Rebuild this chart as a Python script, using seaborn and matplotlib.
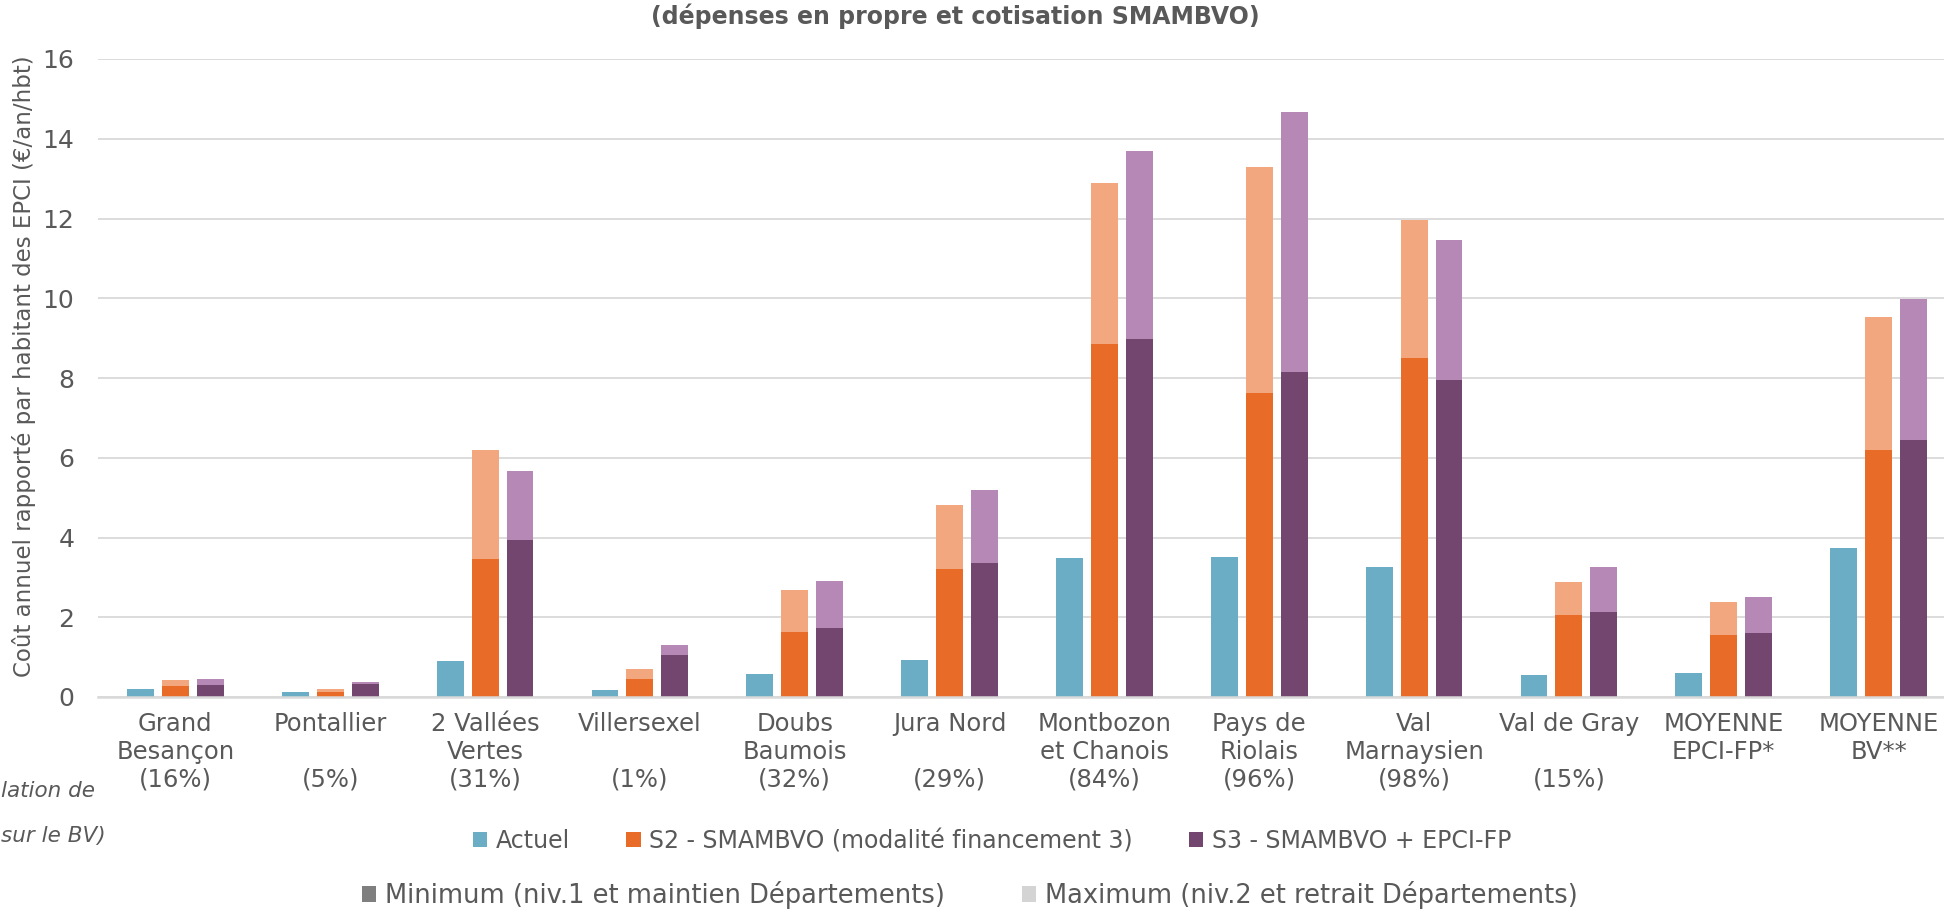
import pandas as pd
import seaborn as sns
import matplotlib.pyplot as plt
from matplotlib.patches import Patch

# EPCI labels (name + share of population on the BV)
categories = [
    "Grand\nBesançon\n(16%)", "Pontallier\n\n(5%)", "2 Vallées\nVertes\n(31%)",
    "Villersexel\n\n(1%)", "Doubs\nBaumois\n(32%)", "Jura Nord\n\n(29%)",
    "Montbozon\net Chanois\n(84%)", "Pays de\nRiolais\n(96%)", "Val\nMarnaysien\n(98%)",
    "Val de Gray\n\n(15%)", "MOYENNE\nEPCI-FP*", "MOYENNE\nBV**",
]
actuel = [0.20, 0.12, 0.90, 0.17, 0.58, 0.93, 3.48, 3.50, 3.27, 0.55, 0.60, 3.73]
s2_min = [0.27, 0.12, 3.45, 0.45, 1.62, 3.22, 8.85, 7.63, 8.50, 2.05, 1.55, 6.20]
s2_max = [0.42, 0.20, 6.20, 0.70, 2.68, 4.82, 12.88, 13.28, 11.95, 2.88, 2.37, 9.52]
s3_min = [0.30, 0.33, 3.93, 1.05, 1.72, 3.37, 8.98, 8.15, 7.95, 2.12, 1.60, 6.45]
s3_max = [0.45, 0.38, 5.67, 1.30, 2.92, 5.20, 13.70, 14.68, 11.47, 3.25, 2.50, 9.98]

scenarios = ["Actuel", "S2 - SMAMBVO (modalité financement 3)", "S3 - SMAMBVO + EPCI-FP"]
dark_colors = ["#6aadc4", "#e96b28", "#734670"]
light_colors = ["#6aadc4", "#f2a77f", "#b588b5"]

TXT = "#595959"
GRID = "#d9d9d9"


def long_table(series_list):
    rows = []
    for scen, vals in zip(scenarios, series_list):
        for cat, v in zip(categories, vals):
            rows.append({"cat": cat, "scen": scen, "val": v})
    return pd.DataFrame(rows)


df_max = long_table([actuel, s2_max, s3_max])
df_min = long_table([actuel, s2_min, s3_min])

sns.set_theme(style="white")
plt.rcParams["font.family"] = ["DejaVu Sans"]

W, H = 1944, 917
fig = plt.figure(figsize=(W / 100, H / 100), dpi=100)
ax = fig.add_axes([98 / W, 1 - 697 / H, (1956 - 98) / W, (697 - 59) / H])

# max (light) first, then min (dark) on top
sns.barplot(data=df_max, x="cat", y="val", hue="scen", palette=light_colors, saturation=1,
            width=0.677, gap=0.23, errorbar=None, linewidth=0, legend=False, ax=ax)
sns.barplot(data=df_min, x="cat", y="val", hue="scen", palette=dark_colors, saturation=1,
            width=0.677, gap=0.23, errorbar=None, linewidth=0, legend=False, ax=ax)

ax.set_ylim(0, 16)
ax.set_yticks(range(0, 17, 2))
ax.set_xlim(-0.5, len(categories) - 0.5)
ax.set_xlabel("")
ax.set_ylabel("")
ax.set_axisbelow(True)
ax.yaxis.grid(True, color=GRID, linewidth=1.3)
ax.xaxis.grid(False)
for side in ["top", "right", "left"]:
    ax.spines[side].set_visible(False)
ax.spines["bottom"].set_color(GRID)
ax.spines["bottom"].set_linewidth(1.8)
ax.tick_params(axis="x", length=0, pad=11, labelsize=17.5, colors=TXT)
ax.tick_params(axis="y", length=0, pad=17, labelsize=18, colors=TXT)

fig.text(24 / W, 1 - 366 / H, "Coût annuel rapporté par habitant des EPCI (€/an/hbt)",
         rotation=90, ha="center", va="center", fontsize=16.5, color=TXT)
fig.text(955 / W, 1 - 16 / H, "(dépenses en propre et cotisation SMAMBVO)",
         ha="center", va="center", fontsize=17, fontweight="bold", color=TXT)

# note cut at the left edge of the original picture
fig.text(1 / W, 1 - 791 / H, "lation de", ha="left", va="center",
         fontsize=15.5, style="italic", color=TXT)
fig.text(1 / W, 1 - 836 / H, "sur le BV)", ha="left", va="center",
         fontsize=15.5, style="italic", color=TXT)

h1 = [Patch(facecolor=c, edgecolor="none") for c in dark_colors]
leg1 = fig.legend(h1, scenarios, loc="center", bbox_to_anchor=(992 / W, 1 - 841 / H),
                  ncol=3, frameon=False, fontsize=17, handlelength=0.6, handleheight=0.6,
                  handletextpad=0.35, columnspacing=2.4, labelcolor=TXT)

h2 = [Patch(facecolor="#7f7f7f", edgecolor="none"), Patch(facecolor="#d4d4d4", edgecolor="none")]
leg2 = fig.legend(h2, ["Minimum (niv.1 et maintien Départements)",
                       "Maximum (niv.2 et retrait Départements)"],
                  loc="center", bbox_to_anchor=(970 / W, 1 - 895 / H), ncol=2, frameon=False,
                  fontsize=18.5, handlelength=0.55, handleheight=0.55, handletextpad=0.35,
                  columnspacing=3.0, labelcolor=TXT)

fig.savefig("out.png", dpi=100)
